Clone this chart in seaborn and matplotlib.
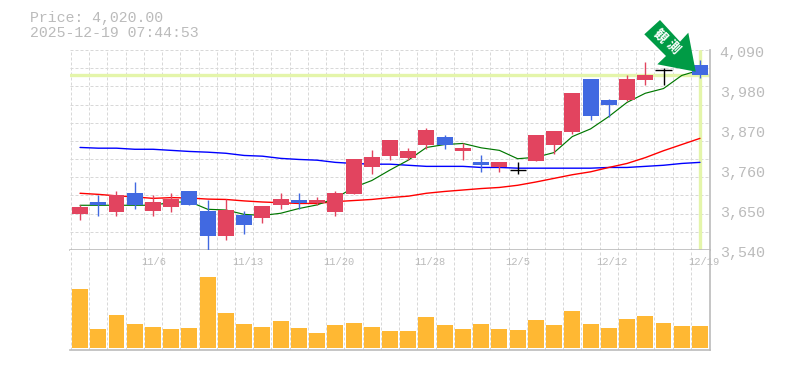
import matplotlib
matplotlib.use("Agg")
import matplotlib.pyplot as plt
import matplotlib.transforms as mtrans
from matplotlib.patches import Polygon
import numpy as np
import seaborn as sns

# price candles, red = up, blue = down, black = open equals close
opens = [3640, 3672, 3645, 3697, 3647, 3658, 3702, 3647, 3578, 3636, 3628, 3664,
         3677, 3668, 3645, 3694, 3768, 3798, 3793, 3829, 3851, 3812, 3782, 3768,
         3759, 3785, 3829, 3864, 4010, 3952, 3952, 4007, 4034, 4045, 4050]
closes = [3658, 3663, 3691, 3663, 3672, 3680, 3664, 3578, 3650, 3609, 3661, 3680,
          3668, 3677, 3697, 3790, 3796, 3842, 3812, 3870, 3829, 3820, 3774, 3782,
          3759, 3856, 3867, 3972, 3908, 3939, 4010, 4021, 4034, 4060, 4020]
highs = [3664, 3690, 3702, 3727, 3691, 3697, 3702, 3678, 3680, 3647, 3661, 3697,
         3697, 3686, 3702, 3790, 3815, 3842, 3820, 3875, 3856, 3834, 3801, 3782,
         3782, 3856, 3867, 3972, 4010, 3955, 4021, 4057, 4040, 4070, 4062]
lows = [3623, 3633, 3633, 3653, 3633, 3645, 3664, 3540, 3568, 3584, 3614, 3653,
        3654, 3664, 3634, 3694, 3749, 3788, 3788, 3818, 3818, 3788, 3755, 3755,
        3749, 3785, 3804, 3859, 3897, 3906, 3950, 3994, 3994, 4040, 4013]

ma_short = [3663, 3663, 3663, 3663, 3663, 3671, 3673, 3652, 3650, 3638, 3635, 3641,
            3654, 3664, 3682, 3712, 3731, 3760, 3787, 3822, 3830, 3833, 3821, 3814,
            3791, 3795, 3808, 3852, 3873, 3907, 3946, 3971, 3984, 4020, 4035]
ma_mid = [3696, 3693, 3689, 3686, 3682, 3684, 3683, 3680, 3679, 3675, 3672, 3670,
          3668, 3668, 3673, 3676, 3679, 3684, 3688, 3696, 3701, 3705, 3709, 3712,
          3718, 3727, 3737, 3747, 3755, 3767, 3778, 3794, 3813, 3830, 3847]
ma_long = [3822, 3820, 3820, 3817, 3817, 3814, 3811, 3809, 3806, 3800, 3798, 3792,
           3789, 3787, 3781, 3778, 3776, 3776, 3773, 3770, 3770, 3770, 3767, 3767,
           3765, 3765, 3765, 3765, 3765, 3767, 3767, 3770, 3773, 3778, 3781]

volumes = [59, 19, 33, 24, 21, 19, 20, 71, 35, 24, 21, 27, 20, 15, 23, 25, 21, 17,
           17, 31, 23, 19, 24, 19, 18, 28, 23, 37, 24, 20, 29, 32, 25, 22, 22]

price_ticks = [3540, 3650, 3760, 3870, 3980, 4090]
date_labels = ["11/6", "11/13", "11/20", "11/28", "12/5", "12/12", "12/19"]
date_idx = [4, 9, 14, 19, 24, 29, 34]
last_price = 4020
title_lines = ["Price: 4,020.00", "2025-12-19 07:44:53"]
badge_text = "観測"

RED = "#E2445F"
BLUE = "#4169E1"
GRAY = "#BBBBBB"
GRID = "#D8D8D8"
DASH = (0, (3, 2))
W, H = 785, 370

sns.set_style("white")
plt.rcParams["font.family"] = ["Liberation Mono", "DejaVu Sans Mono"]

days = np.arange(len(closes))
fig = plt.figure(figsize=(W / 100, H / 100), dpi=100)
ax = fig.add_axes([70 / W, (H - 250) / H, 640 / W, 200 / H])
ax_vol = fig.add_axes([70 / W, (H - 350) / H, 640 / W, 100 / H], sharex=ax)

edges = days[:-1] + 0.5
for a in (ax, ax_vol):
    for e in np.r_[-0.5, edges]:
        a.axvline(e, color=GRID, lw=0.72, ls=DASH, zorder=0)
    for side in ("top", "left"):
        a.spines[side].set_visible(False)
    for side in ("bottom", "right"):
        a.spines[side].set_color(GRAY)
        a.spines[side].set_linewidth(1.2)
        a.spines[side].set_visible(True)

# price panel
ax.set_xlim(-0.55, 34.55)
ax.set_ylim(3540, 4090)
for g in range(3540, 4091, 50):
    ax.axhline(g, color=GRID, lw=0.72, ls=DASH, zorder=0, clip_on=False)
ax.axhline(last_price, color="#E4F5AA", lw=2.4, zorder=1)
ax.axvline(days[-1], color="#E4F5AA", lw=2.4, zorder=1, ymax=0.995)

sns.lineplot(x=days, y=ma_long, color="#0000FF", lw=1.0, ax=ax, zorder=2)
sns.lineplot(x=days, y=ma_mid, color="#FF0000", lw=1.0, ax=ax, zorder=2)
sns.lineplot(x=days, y=ma_short, color="#007700", lw=0.85, ax=ax, zorder=2)

for i in days:
    o, c = opens[i], closes[i]
    col = RED if c > o else BLUE if c < o else "black"
    ax.vlines(i, lows[i], highs[i], color=col, lw=1.0, zorder=3)
    if c == o:
        ax.hlines(c, i - 0.44, i + 0.44, color=col, lw=1.0, zorder=3)
    else:
        ax.bar(i, abs(c - o), bottom=min(o, c), width=0.877, color=col, lw=0, zorder=3)

ax.yaxis.tick_right()
ax.set_yticks(price_ticks, [f"{p:,}" for p in price_ticks])
ax.tick_params(axis="y", length=0, pad=7, labelsize=10.8, labelcolor=GRAY)
ax.tick_params(axis="x", length=0, labelbottom=False)
shift = mtrans.ScaledTranslation(0, -2 / 100, fig.dpi_scale_trans)
for lbl in ax.get_yticklabels():
    lbl.set_transform(lbl.get_transform() + shift)

# volume panel
sns.barplot(x=days, y=volumes, native_scale=True, color="#FFB833", width=0.877,
            saturation=1, lw=0, ax=ax_vol, zorder=2)
ax_vol.set_xlim(-0.55, 34.55)
ax_vol.set_ylim(-2, 98)
ax_vol.set_ylabel("")
ax_vol.set_yticks([])
ax_vol.xaxis.tick_top()
ax_vol.set_xticks([d - 0.5 for d in date_idx], date_labels, ha="left")
ax_vol.tick_params(axis="x", length=0, direction="in", pad=-12, labelsize=7.5,
                   labelcolor=GRAY, labeltop=True, labelbottom=False)
shift_x = mtrans.ScaledTranslation(-3 / 100, 0, fig.dpi_scale_trans)
for lbl in ax_vol.get_xticklabels():
    lbl.set_transform(lbl.get_transform() + shift_x)

# arrow badge, outline in pixels from the top left of the picture
arrow_px = [(660, 20), (644.3, 34.3), (666, 56), (657.3, 64.3), (695.7, 71.7),
            (688.3, 32.7), (680, 41.7)]
arrow_fig = [(x / W, 1 - y / H) for x, y in arrow_px]
fig.add_artist(Polygon(arrow_fig, closed=True, color="#009B45", lw=0, zorder=5,
                       transform=fig.transFigure))
for ch, (x, y) in zip(badge_text, [(660, 35.7), (672.7, 47.3)]):
    fig.text(x / W, 1 - y / H, ch, color="white", fontsize=9.5, fontweight="bold",
             rotation=-45, ha="center", va="center", zorder=6,
             family=["Noto Sans CJK JP", "DejaVu Sans"])

for line, y in zip(title_lines, [18, 33]):
    fig.text(30 / W, 1 - y / H, line, color=GRAY, fontsize=10.7, va="center", ha="left")

fig.savefig("out.png", dpi=100, facecolor="white")
